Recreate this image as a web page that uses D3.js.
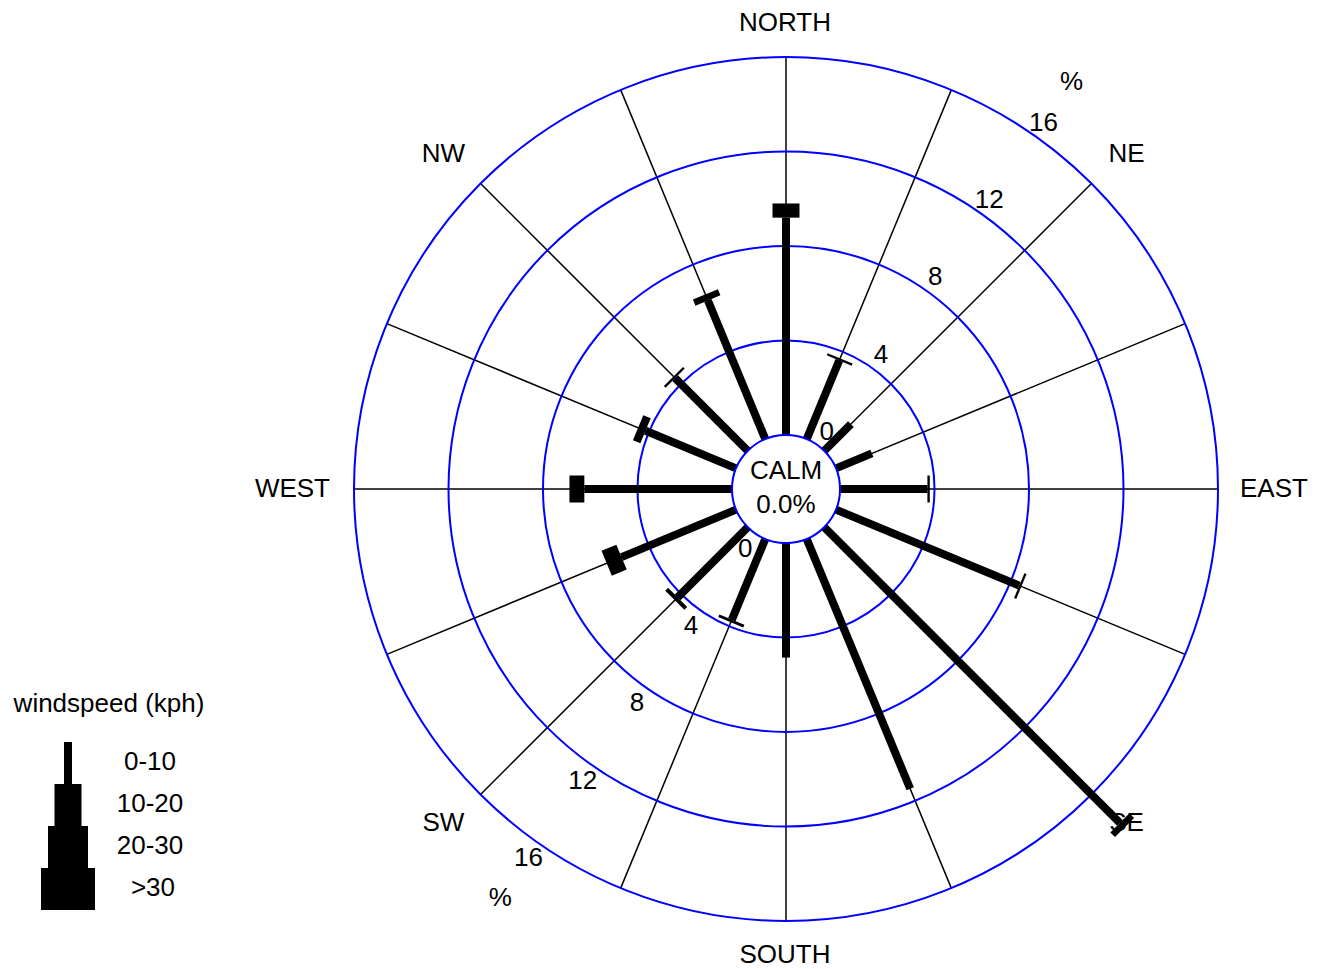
<!DOCTYPE html>
<html>
<head>
<meta charset="utf-8">
<script src="https://cdn.jsdelivr.net/npm/d3@7"></script>
<style>
  body { margin: 0; background: #fff; }
  text { font-family: "Liberation Sans", Arial, sans-serif; font-size: 26px; fill: #000; }
</style>
</head>
<body>
<div id="chart"></div>
<script>
const w = 1328;
const h = 969;

// 16 directions, clockwise from north
const directions = ["N", "NNE", "NE", "ENE", "E", "ESE", "SE", "SSE",
  "S", "SSW", "SW", "WSW", "W", "WNW", "NW", "NNW"];
// percent of time per speed class
const speed0_10 = [9.2, 3.6, 1.6, 1.65, 3.7, 8.4, 17.7, 11.45, 4.85, 3.7, 4.2, 5.25, 6.25, 4.15, 4.35, 6.35];
const speed10_20 = [0.6, 0.1, 0, 0, 0.1, 0.1, 0.28, 0, 0, 0.12, 0.17, 0.68, 0.63, 0.34, 0.1, 0.28];
const speed20_30 = [0, 0, 0, 0, 0, 0, 0, 0, 0, 0, 0, 0, 0, 0, 0, 0];
const speed30 = [0, 0, 0, 0, 0, 0, 0, 0, 0, 0, 0, 0, 0, 0, 0, 0];
const speedLabels = ["0-10", "10-20", "20-30", ">30"];
const ringTicks = [0, 4, 8, 12, 16];
const compassLabels = [
  { name: "NORTH", angle: 0 }, { name: "NE", angle: 45 },
  { name: "EAST", angle: 90 }, { name: "SE", angle: 135 },
  { name: "SOUTH", angle: 180 }, { name: "SW", angle: 225 },
  { name: "WEST", angle: 270 }, { name: "NW", angle: 315 }
];
const calmPct = "0.0%";

const cx = 786;
const cy = 489;
let r = d3.scaleLinear().domain([0, 16]).range([54, 432]);
let barWidth = d3.scaleOrdinal().domain(speedLabels).range([8, 27, 40, 54]);

const series = [speed0_10, speed10_20, speed20_30, speed30];
const rad = a => (a * Math.PI) / 180;
const px = (a, rr) => cx + rr * Math.sin(rad(a));
const py = (a, rr) => cy - rr * Math.cos(rad(a));

let svg = d3.select("#chart").append("svg")
  .attr("width", w)
  .attr("height", h);

// spokes
svg.selectAll("line.spoke")
  .data(directions)
  .enter()
  .append("line")
  .attr("class", "spoke")
  .attr("stroke", "black")
  .attr("stroke-width", 1.5)
  .attr("x1", (d, i) => px(i * 22.5, r(0)))
  .attr("y1", (d, i) => py(i * 22.5, r(0)))
  .attr("x2", (d, i) => px(i * 22.5, r(16)))
  .attr("y2", (d, i) => py(i * 22.5, r(16)));

// rings
svg.selectAll("circle.ring")
  .data(ringTicks.slice(1))
  .enter()
  .append("circle")
  .attr("cx", cx)
  .attr("cy", cy)
  .attr("r", d => r(d))
  .attr("fill", "none")
  .attr("stroke", "#0000ff")
  .attr("stroke-width", 2);

// bars
let segs = [];
directions.forEach((d, i) => {
  let start = 0;
  series.forEach((s, j) => {
    if (s[i] > 0) segs.push({ dir: i, speed: speedLabels[j], from: start, to: start + s[i] });
    start += s[i];
  });
});
svg.selectAll("rect.bar")
  .data(segs)
  .enter()
  .append("rect")
  .attr("fill", "black")
  .attr("transform", d => `translate(${cx},${cy}) rotate(${d.dir * 22.5})`)
  .attr("x", d => -barWidth(d.speed) / 2)
  .attr("width", d => barWidth(d.speed))
  .attr("y", d => -r(d.to))
  .attr("height", d => r(d.to) - r(d.from));

// calm circle
svg.append("circle")
  .attr("cx", cx)
  .attr("cy", cy)
  .attr("r", r(0))
  .attr("fill", "white")
  .attr("stroke", "#0000ff")
  .attr("stroke-width", 2);
svg.append("text").attr("x", cx).attr("y", 470).attr("dy", "0.36em")
  .attr("text-anchor", "middle").text("CALM");
svg.append("text").attr("x", cx).attr("y", 504).attr("dy", "0.36em")
  .attr("text-anchor", "middle").text(calmPct);

// ring labels, two diagonals
[35, 215].forEach(a => {
  svg.selectAll(null)
    .data(ringTicks)
    .enter()
    .append("text")
    .attr("text-anchor", "middle")
    .attr("dy", "0.36em")
    .attr("x", d => px(a, r(d) + 17))
    .attr("y", d => py(a, r(d) + 17))
    .text(d => d);
  svg.append("text")
    .attr("text-anchor", "middle")
    .attr("dy", "0.36em")
    .attr("x", px(a, r(16) + 66))
    .attr("y", py(a, r(16) + 66))
    .text("%");
});

// compass labels (placed round a slightly shifted centre, like the original)
const lx = 785;
const ly = 487.5;
svg.selectAll("text.compass")
  .data(compassLabels)
  .enter()
  .append("text")
  .attr("class", "compass")
  .attr("dy", "0.36em")
  .attr("text-anchor", d => (d.angle == 90 ? "start" : d.angle == 270 ? "end" : "middle"))
  .attr("x", d => {
    let rx = d.angle % 90 ? 483 : d.angle % 180 ? 455 : 466;
    return lx + rx * Math.sin(rad(d.angle));
  })
  .attr("y", d => {
    let ry = d.angle % 90 ? 473 : d.angle % 180 ? 455 : 466;
    return ly - ry * Math.cos(rad(d.angle));
  })
  .text(d => d.name);

// legend
const legX = 68;
const legTop = 742;
const legStep = 42;
svg.append("text").attr("x", 109).attr("y", 703).attr("dy", "0.36em")
  .attr("text-anchor", "middle").text("windspeed (kph)");
let leg = svg.selectAll("g.leg")
  .data(speedLabels)
  .enter()
  .append("g");
leg.append("rect")
  .attr("fill", "black")
  .attr("x", d => legX - barWidth(d) / 2)
  .attr("width", d => barWidth(d))
  .attr("y", (d, i) => legTop + i * legStep)
  .attr("height", legStep);
leg.append("text")
  .attr("x", (d, i) => (i == 3 ? 153 : 150))
  .attr("y", (d, i) => 761 + i * legStep)
  .attr("dy", "0.36em")
  .attr("text-anchor", "middle")
  .text(d => d);
</script>
</body>
</html>
